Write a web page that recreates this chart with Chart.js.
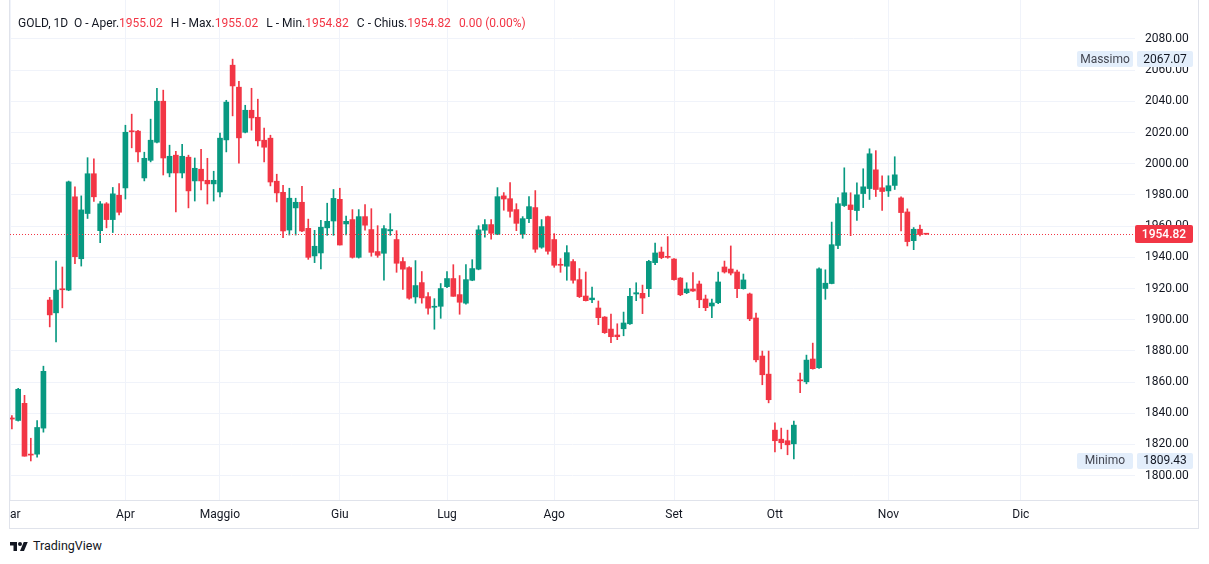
<!DOCTYPE html>
<html>
<head>
<meta charset="utf-8">
<script src="https://cdn.jsdelivr.net/npm/chart.js@4/dist/chart.umd.min.js"></script>
<style>
  body { margin: 0; background: #fff; font-family: Roboto, "Liberation Sans", sans-serif; color: #131722; }
  #frame { position: absolute; left: 9px; top: 0; width: 1190px; height: 529px; box-sizing: border-box; border: 1px solid #E0E3EB; border-top: none; }
  #wrap { position: absolute; left: 10px; top: 0; width: 1188px; height: 528px; overflow: hidden; }
  #c { position: absolute; left: -30px; top: 0; }
  #sep { position: absolute; left: 10px; top: 500px; width: 1188px; height: 1px; background: #E0E3EB; }
  #legend { position: absolute; left: 18px; top: 16px; font-size: 12px; white-space: pre; }
  #legend .v { color: #F23645; margin-right: 8px; }
  #logo { position: absolute; left: 10px; top: 538px; font-size: 12.5px; display: flex; align-items: center; }
  #logo svg { margin-right: 5px; }
</style>
</head>
<body>
<div id="frame"></div>
<div id="wrap"><canvas id="c" width="1218" height="528"></canvas></div>
<div id="sep"></div>
<div id="legend">GOLD, 1D  O - Aper.<span class="v">1955.02</span>H - Max.<span class="v">1955.02</span>L - Min.<span class="v">1954.82</span>C - Chius.<span class="v">1954.82</span><span class="v">0.00 (0.00%)</span></div>
<div id="logo"><svg width="18" height="12" viewBox="0 0 36 24"><path d="M14 22H7V11H0V4h14v18zM28 22h-8l7.5-18h8L28 22z" fill="#131722"/><circle cx="20" cy="8" r="4" fill="#131722"/></svg>TradingView</div>
<script>
// daily candles, GOLD 1D
const opens = [
  1837.0, 1835.4, 1846.4, 1813.6, 1813.8, 1830.5, 1912.6, 1904.4, 1919.7, 1919.0,
  1978.8, 1939.1, 1968.1, 1993.6, 1957.1, 1974.3, 1964.2, 1979.8, 1984.5, 2021.0,
  2020.9, 1990.9, 2002.2, 2013.8, 2040.1, 1994.1, 2005.5, 1994.1, 2004.2, 1989.0,
  1996.5, 1989.4, 1987.1, 1981.9, 2015.3, 2063.2, 2049.1, 2020.2, 2034.3, 2029.8,
  2015.1, 2016.4, 1988.8, 1981.7, 1957.5, 1971.7, 1975.3, 1958.6, 1940.9, 1942.8,
  1958.9, 1963.3, 1977.2, 1961.4, 1964.2, 1940.0, 1966.1, 1957.8, 1943.7, 1942.6,
  1957.0, 1951.4, 1937.3, 1933.4, 1914.6, 1923.8, 1914.8, 1908.0, 1908.6, 1921.2,
  1926.4, 1916.1, 1910.6, 1925.3, 1932.4, 1957.4, 1961.0, 1954.8, 1979.4, 1977.6,
  1970.6, 1954.8, 1964.8, 1971.9, 1946.5, 1966.1, 1951.4, 1935.3, 1934.3, 1937.3,
  1925.7, 1915.2, 1912.8, 1907.5, 1901.7, 1894.0, 1890.2, 1894.2, 1897.4, 1916.5,
  1916.9, 1919.9, 1936.6, 1943.4, 1940.4, 1938.9, 1926.7, 1917.3, 1919.7, 1922.9,
  1913.3, 1908.8, 1910.9, 1933.8, 1932.5, 1930.6, 1919.9, 1916.5, 1901.1, 1876.7,
  1865.1, 1829.2, 1823.4, 1822.4, 1820.4, 1861.0, 1860.2, 1874.8, 1869.2, 1920.0,
  1923.2, 1947.6, 1973.2, 1973.6, 1970.0, 1980.9, 1984.1, 1996.1, 1984.6, 1982.6,
  1986.1, 1978.1, 1969.1, 1950.7, 1958.0, 1955.02
];
const highs = [
  1838.6, 1856.0, 1851.5, 1824.0, 1835.4, 1870.2, 1914.3, 1937.6, 1933.8, 1988.9,
  1985.2, 1979.4, 2003.9, 2003.2, 1975.8, 1975.1, 1984.8, 1987.3, 2024.7, 2031.8,
  2021.5, 2007.4, 2028.6, 2048.4, 2047.2, 2011.9, 2008.0, 2012.5, 2005.5, 2003.7,
  2009.3, 2003.5, 1995.2, 2019.6, 2040.7, 2067.07, 2052.9, 2037.5, 2048.4, 2041.4,
  2022.8, 2018.3, 1993.3, 1986.2, 1984.3, 1977.9, 1985.5, 1964.5, 1957.3, 1963.8,
  1974.7, 1983.5, 1984.3, 1966.5, 1970.6, 1970.6, 1973.8, 1971.2, 1960.3, 1960.3,
  1968.0, 1957.1, 1939.8, 1934.0, 1937.9, 1930.9, 1917.4, 1913.5, 1923.2, 1930.9,
  1935.3, 1928.3, 1935.3, 1938.5, 1960.3, 1964.2, 1964.2, 1984.7, 1981.5, 1987.9,
  1974.4, 1966.1, 1978.9, 1982.8, 1964.2, 1966.5, 1955.2, 1939.2, 1947.5, 1938.5,
  1932.8, 1930.6, 1921.0, 1912.0, 1902.0, 1903.6, 1897.4, 1904.9, 1920.1, 1923.7,
  1922.2, 1938.1, 1949.2, 1946.6, 1953.3, 1939.2, 1927.0, 1923.7, 1930.2, 1924.8,
  1915.8, 1913.3, 1930.6, 1937.6, 1947.3, 1931.9, 1929.3, 1917.1, 1904.3, 1879.9,
  1879.9, 1833.9, 1830.5, 1829.2, 1835.0, 1865.8, 1877.3, 1885.0, 1933.3, 1932.0,
  1962.6, 1978.3, 1997.4, 1981.4, 1987.8, 1996.8, 2009.6, 2008.4, 1992.3, 1992.3,
  2004.5, 1978.8, 1971.1, 1959.1, 1960.6, 1955.02
];
const lows = [
  1830.0, 1835.0, 1812.5, 1809.43, 1811.9, 1827.9, 1895.4, 1885.8, 1907.6, 1918.6,
  1935.9, 1934.4, 1964.9, 1975.8, 1949.4, 1958.9, 1955.9, 1967.2, 1977.4, 2010.2,
  2001.2, 1989.0, 2001.2, 2013.3, 1992.8, 1991.6, 1969.1, 1990.9, 1971.7, 1976.1,
  1983.2, 1974.2, 1976.1, 1978.7, 2007.6, 2030.7, 2000.4, 2019.8, 2021.5, 2011.4,
  2001.2, 1985.8, 1975.5, 1952.6, 1954.3, 1954.3, 1956.5, 1938.7, 1936.6, 1932.5,
  1954.1, 1954.1, 1947.9, 1954.3, 1939.5, 1939.5, 1957.4, 1940.7, 1940.0, 1925.3,
  1954.1, 1930.4, 1919.5, 1913.1, 1910.6, 1910.6, 1903.5, 1893.9, 1900.9, 1920.6,
  1915.0, 1903.5, 1909.9, 1925.0, 1932.0, 1952.9, 1951.6, 1954.5, 1970.2, 1965.7,
  1957.1, 1952.2, 1962.3, 1943.2, 1945.8, 1942.0, 1933.6, 1930.4, 1925.3, 1923.4,
  1914.2, 1912.0, 1910.9, 1896.8, 1891.2, 1885.2, 1887.2, 1889.7, 1897.0, 1912.2,
  1903.9, 1914.8, 1935.3, 1939.1, 1939.4, 1925.4, 1915.4, 1916.7, 1918.2, 1907.7,
  1905.8, 1901.3, 1910.3, 1929.9, 1928.7, 1914.1, 1919.6, 1899.4, 1873.0, 1858.3,
  1846.7, 1815.3, 1817.2, 1813.4, 1810.8, 1853.2, 1858.9, 1868.3, 1868.8, 1913.1,
  1923.0, 1945.5, 1972.6, 1953.9, 1963.6, 1971.9, 1977.1, 1979.0, 1970.0, 1979.0,
  1983.5, 1956.9, 1947.3, 1944.9, 1953.7, 1954.82
];
const closes = [
  1836.3, 1855.4, 1812.5, 1813.2, 1830.9, 1866.9, 1903.1, 1919.0, 1919.2, 1988.4,
  1940.4, 1970.4, 1993.6, 1978.8, 1974.3, 1964.2, 1980.7, 1968.9, 2020.2, 2020.5,
  2007.6, 2003.5, 2015.1, 2040.1, 2003.7, 2004.8, 1994.1, 2004.8, 1982.6, 1997.1,
  1989.0, 1987.1, 1989.4, 2016.4, 2039.5, 2049.9, 2016.6, 2034.3, 2029.4, 2014.7,
  2010.6, 1988.3, 1981.3, 1956.9, 1977.9, 1975.3, 1956.9, 1940.0, 1947.1, 1959.3,
  1963.1, 1977.8, 1947.9, 1963.1, 1940.0, 1966.1, 1960.6, 1943.2, 1941.3, 1958.4,
  1957.8, 1936.2, 1932.4, 1913.8, 1921.9, 1914.0, 1907.4, 1908.4, 1920.0, 1926.4,
  1915.0, 1911.2, 1925.7, 1932.8, 1957.6, 1961.0, 1955.4, 1978.9, 1977.4, 1969.5,
  1961.8, 1964.8, 1972.5, 1945.2, 1959.7, 1943.9, 1934.9, 1934.9, 1943.0, 1925.3,
  1914.8, 1912.2, 1913.9, 1901.3, 1891.7, 1889.1, 1889.1, 1897.9, 1915.0, 1917.3,
  1913.9, 1937.4, 1942.8, 1939.8, 1940.0, 1925.7, 1916.0, 1919.7, 1918.4, 1912.8,
  1907.7, 1910.7, 1924.2, 1930.6, 1929.9, 1919.9, 1925.5, 1900.6, 1874.3, 1864.7,
  1848.7, 1822.4, 1821.1, 1819.8, 1832.4, 1860.8, 1874.1, 1868.6, 1932.6, 1923.4,
  1948.1, 1974.4, 1981.4, 1970.6, 1980.1, 1985.2, 2006.4, 1983.5, 1982.2, 1985.9,
  1992.9, 1968.7, 1950.1, 1958.0, 1954.6, 1954.82
];

// time axis: month labels and the bar where each month starts
const months = ['Mar', 'Apr', 'Maggio', 'Giu', 'Lug', 'Ago', 'Set', 'Ott', 'Nov', 'Dic'];
const monthBar = [-0.3, 18, 33, 52, 69, 86, 105, 121, 139, 160];

// price axis labels
const priceTicks = [1800, 1820, 1840, 1860, 1880, 1900, 1920, 1940, 1960, 1980, 2000, 2020, 2040, 2060, 2080];

const UP = '#089981';
const DOWN = '#F23645';
const colors = closes.map((c, i) => c >= opens[i] ? UP : DOWN);

const hi = Math.max(...highs);
const lo = Math.min(...lows);
const last = closes[closes.length - 1];

function badge(ctx, x, y, w, h, text, bg, fg, bold) {
  ctx.fillStyle = bg;
  ctx.beginPath();
  ctx.roundRect(x, Math.round(y - h / 2), w, h, 2);
  ctx.fill();
  ctx.fillStyle = fg;
  ctx.font = (bold ? '500 ' : '') + '12px Roboto, sans-serif';
  ctx.textAlign = 'center';
  ctx.textBaseline = 'middle';
  ctx.fillText(text, x + w / 2, y + 0.5);
}

const priceMarks = {
  id: 'priceMarks',
  afterDraw(chart) {
    const { ctx, chartArea: a, scales: { y } } = chart;
    ctx.save();
    const py = Math.round(y.getPixelForValue(last)) + 0.5;
    ctx.strokeStyle = DOWN;
    ctx.lineWidth = 1;
    ctx.setLineDash([1, 2]);
    ctx.beginPath();
    ctx.moveTo(a.left, py);
    ctx.lineTo(a.right, py);
    ctx.stroke();
    ctx.setLineDash([]);
    badge(ctx, a.right, y.getPixelForValue(last), 58, 18, last.toFixed(2), DOWN, '#fff', true);
    badge(ctx, a.right - 58, y.getPixelForValue(hi), 56, 16, 'Massimo', '#E3EEFB', '#434651');
    badge(ctx, a.right + 2, y.getPixelForValue(hi), 56, 16, hi.toFixed(2), '#E3EEFB', '#131722');
    badge(ctx, a.right - 58, y.getPixelForValue(lo), 56, 16, 'Minimo', '#E3EEFB', '#434651');
    badge(ctx, a.right + 2, y.getPixelForValue(lo), 56, 16, lo.toFixed(2), '#E3EEFB', '#131722');
    ctx.restore();
  }
};

Chart.defaults.font.family = 'Roboto, sans-serif';
Chart.defaults.font.size = 12;
Chart.defaults.color = '#131722';

new Chart(document.getElementById('c'), {
  type: 'bar',
  data: {
    datasets: [{
      label: 'body',
      data: opens.map((o, i) => ({ x: i, y: [o, closes[i]] })),
      backgroundColor: colors,
      barThickness: 5,
      minBarLength: 1,
      grouped: false,
      order: 0
    }, {
      label: 'wick',
      data: opens.map((o, i) => ({ x: i, y: [lows[i], highs[i]] })),
      backgroundColor: colors,
      barThickness: 1,
      grouped: false,
      order: 1
    }]
  },
  options: {
    responsive: false,
    animation: false,
    layout: { padding: { left: 30, top: 0, right: 0, bottom: 0 } },
    plugins: { legend: { display: false }, tooltip: { enabled: false } },
    scales: {
      x: {
        type: 'linear',
        offset: false,
        min: -0.3,
        max: 178.1,
        afterBuildTicks: s => { s.ticks = monthBar.map(v => ({ value: v })); },
        afterFit: s => { s.height = 28; s.paddingLeft = 0; s.paddingRight = 0; },
        ticks: { callback: (v, i) => months[i], autoSkip: false, maxRotation: 0, padding: 8 },
        grid: { color: '#F0F3FA', drawTicks: false, offset: false },
        border: { display: false }
      },
      y: {
        position: 'right',
        min: 1784.4,
        max: 2105.0,
        afterBuildTicks: s => { s.ticks = priceTicks.map(v => ({ value: v })); },
        afterFit: s => { s.width = 63; s.paddingTop = 0; s.paddingBottom = 0; },
        ticks: { callback: v => v.toFixed(2), padding: 10 },
        grid: { color: '#F0F3FA', drawTicks: false },
        border: { display: false }
      }
    }
  },
  plugins: [priceMarks]
});
</script>
</body>
</html>
